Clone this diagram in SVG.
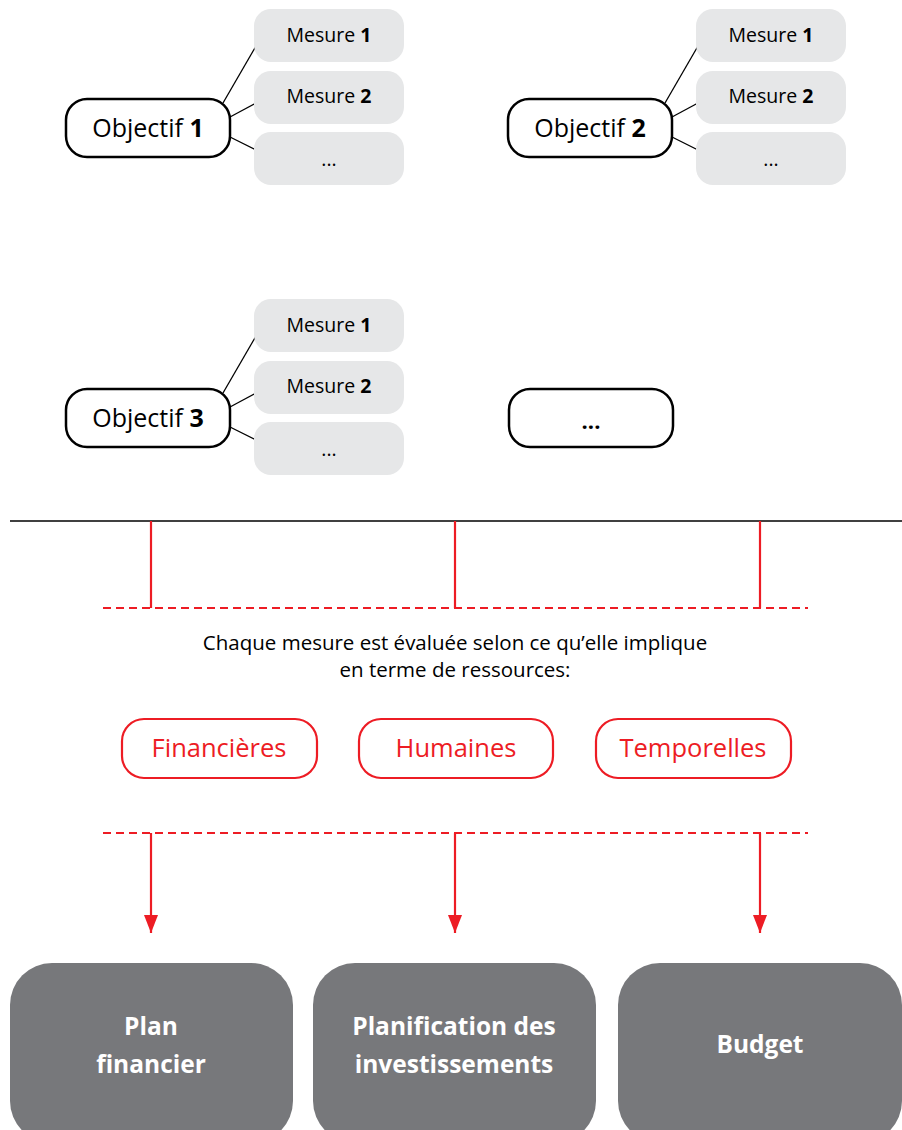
<svg xmlns="http://www.w3.org/2000/svg" width="902" height="1130" viewBox="0 0 902 1130">
<style>
text{font-family:"Open Sans","Noto Sans","Liberation Sans",sans-serif;}
.obj{fill:#fff;stroke:#000;stroke-width:2.5;}
.mes{fill:#e6e7e8;}
.t1{font-size:25px;fill:#000;text-anchor:middle;}
.t2{font-size:19.5px;fill:#000;text-anchor:middle;}
.cap{font-size:20.5px;fill:#000;text-anchor:middle;}
.b{font-weight:bold;}
.ln{stroke:#000;stroke-width:1.3;fill:none;}
.red{stroke:#ed1c24;stroke-width:2.2;fill:none;}
.dash{stroke:#ed1c24;stroke-width:2.2;fill:none;stroke-dasharray:8,5;}
.pill{fill:#fff;stroke:#ed1c24;stroke-width:2.2;}
.pt{font-size:25.5px;fill:#ed1c24;text-anchor:middle;}
.gr{fill:#77787b;}
.gt{font-size:24.5px;fill:#fff;font-weight:bold;text-anchor:middle;}
</style>
<defs>
<marker id="ah" markerWidth="18" markerHeight="14" refX="18" refY="7" orient="auto" markerUnits="userSpaceOnUse" viewBox="0 0 18 14">
<path d="M0,0 L18,7 L0,14 Z" fill="#ed1c24"/>
</marker>
</defs>
<g id="connectors">
<line class="ln" x1="223" y1="103" x2="256" y2="46"/>
<line class="ln" x1="230" y1="117" x2="256" y2="103"/>
<line class="ln" x1="230" y1="137" x2="256" y2="150"/>
<line class="ln" x1="665" y1="103" x2="698" y2="46"/>
<line class="ln" x1="672" y1="117" x2="698" y2="103"/>
<line class="ln" x1="672" y1="137" x2="698" y2="150"/>
<line class="ln" x1="223" y1="393" x2="256" y2="336"/>
<line class="ln" x1="230" y1="407" x2="256" y2="393"/>
<line class="ln" x1="230" y1="427" x2="256" y2="440"/>
<line x1="10" y1="521" x2="902" y2="521" stroke="#000" stroke-width="1.5"/>
<line class="red" x1="151" y1="521" x2="151" y2="608"/>
<line class="red" x1="455" y1="521" x2="455" y2="608"/>
<line class="red" x1="760" y1="521" x2="760" y2="608"/>
<line class="dash" x1="103" y1="608" x2="808" y2="608"/>
<line class="dash" x1="103" y1="833" x2="808" y2="833"/>
<line class="red" x1="151" y1="833" x2="151" y2="933" marker-end="url(#ah)"/>
<line class="red" x1="455" y1="833" x2="455" y2="933" marker-end="url(#ah)"/>
<line class="red" x1="760" y1="833" x2="760" y2="933" marker-end="url(#ah)"/>
</g>
<g id="objectif1">
<rect class="obj" x="66" y="99" width="164" height="58" rx="21"/>
<text class="t1" x="148" y="137">Objectif <tspan class="b">1</tspan></text>
</g>
<g id="o1m1"><rect class="mes" x="254" y="9" width="150" height="53" rx="17"/><text class="t2" x="329" y="42">Mesure <tspan class="b">1</tspan></text></g>
<g id="o1m2"><rect class="mes" x="254" y="71" width="150" height="53" rx="17"/><text class="t2" x="329" y="103">Mesure <tspan class="b">2</tspan></text></g>
<g id="o1m3"><rect class="mes" x="254" y="132" width="150" height="53" rx="17"/><text class="t2" x="329" y="166">...</text></g>
<g id="objectif2">
<rect class="obj" x="508" y="99" width="164" height="58" rx="21"/>
<text class="t1" x="590" y="137">Objectif <tspan class="b">2</tspan></text>
</g>
<g id="o2m1"><rect class="mes" x="696" y="9" width="150" height="53" rx="17"/><text class="t2" x="771" y="42">Mesure <tspan class="b">1</tspan></text></g>
<g id="o2m2"><rect class="mes" x="696" y="71" width="150" height="53" rx="17"/><text class="t2" x="771" y="103">Mesure <tspan class="b">2</tspan></text></g>
<g id="o2m3"><rect class="mes" x="696" y="132" width="150" height="53" rx="17"/><text class="t2" x="771" y="166">...</text></g>
<g id="objectif3">
<rect class="obj" x="66" y="389" width="164" height="58" rx="21"/>
<text class="t1" x="148" y="427">Objectif <tspan class="b">3</tspan></text>
</g>
<g id="o3m1"><rect class="mes" x="254" y="299" width="150" height="53" rx="17"/><text class="t2" x="329" y="332">Mesure <tspan class="b">1</tspan></text></g>
<g id="o3m2"><rect class="mes" x="254" y="361" width="150" height="53" rx="17"/><text class="t2" x="329" y="393">Mesure <tspan class="b">2</tspan></text></g>
<g id="o3m3"><rect class="mes" x="254" y="422" width="150" height="53" rx="17"/><text class="t2" x="329" y="456">...</text></g>
<g id="objectifN">
<rect class="obj" x="509" y="389" width="164" height="58" rx="21"/>
<text class="t1 b" x="591" y="429" style="font-size:22px">...</text>
</g>
<g id="caption">
<text class="cap" x="455" y="650">Chaque mesure est évaluée selon ce qu’elle implique</text>
<text class="cap" x="455" y="677">en terme de ressources:</text>
</g>
<g id="financieres"><rect class="pill" x="122" y="719" width="195" height="59" rx="22"/><text class="pt" x="219" y="757">Financières</text></g>
<g id="humaines"><rect class="pill" x="359" y="719" width="194" height="59" rx="22"/><text class="pt" x="456" y="757">Humaines</text></g>
<g id="temporelles"><rect class="pill" x="596" y="719" width="195" height="59" rx="22"/><text class="pt" x="693" y="757">Temporelles</text></g>
<g id="plan"><rect class="gr" x="10" y="963" width="283" height="180" rx="42"/><text class="gt" x="151" y="1035">Plan</text><text class="gt" x="151" y="1073">financier</text></g>
<g id="invest"><rect class="gr" x="313" y="963" width="283" height="180" rx="42"/><text class="gt" x="454" y="1035">Planification des</text><text class="gt" x="454" y="1073">investissements</text></g>
<g id="budget"><rect class="gr" x="618" y="963" width="284" height="180" rx="42"/><text class="gt" x="760" y="1053">Budget</text></g>
</svg>
